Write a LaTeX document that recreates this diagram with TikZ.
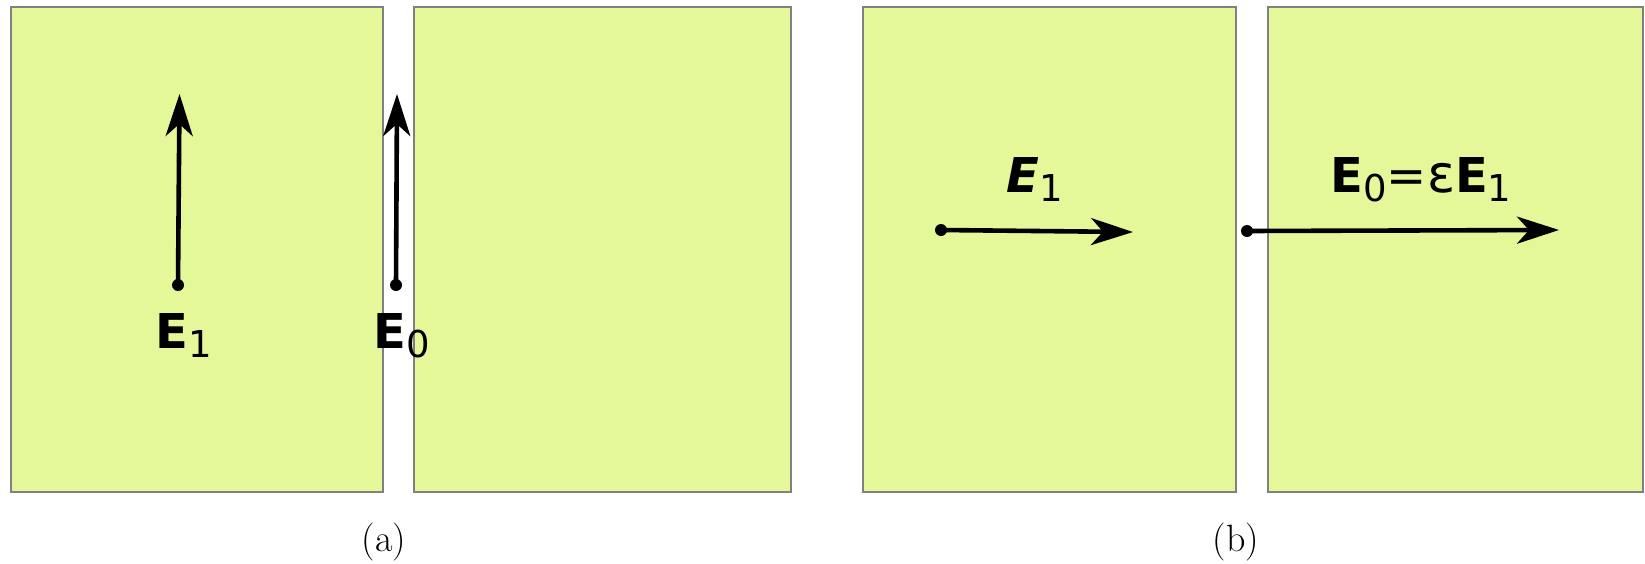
\documentclass[tikz,border=0pt]{standalone}
\usepackage{fontspec}
\newfontfamily\dv{DejaVu Sans}
\usetikzlibrary{arrows.meta}
\newcommand{\bigE}{{\fontsize{48}{48}\selectfont\dv\bfseries E}}
\newcommand{\bigEit}{{\fontsize{48}{48}\selectfont\dv\bfseries\itshape E}}
\newcommand{\sub}[1]{\raisebox{-9pt}{\fontsize{37}{37}\selectfont\dv #1}}
\begin{document}
\begin{tikzpicture}[x=1pt,y=-1pt,
  slab/.style={draw=black!50,line width=1.8pt,fill=slabfill},
  vec/.style={line width=4.6pt,-{Stealth[length=42pt,width=27pt,inset=12pt]},shorten >=-2pt},
  lab/.style={anchor=base,inner sep=0pt},
  captext/.style={font=\fontsize{38}{44}\selectfont,inner sep=0pt}]
\definecolor{slabfill}{HTML}{E4F799}
\useasboundingbox (0,0) rectangle (1645,563);
\fill[white] (0,0) rectangle (1645,563);
% slabs (a)
\node[slab,minimum width=372pt,minimum height=485pt,inner sep=0pt,anchor=north west] (a1) at (10,6) {};
\node[slab,minimum width=377pt,minimum height=485pt,inner sep=0pt,anchor=north west] (a2) at (413,6) {};
% slabs (b)
\node[slab,minimum width=373pt,minimum height=485pt,inner sep=0pt,anchor=north west] (b1) at (862,6) {};
\node[slab,minimum width=375pt,minimum height=485pt,inner sep=0pt,anchor=north west] (b2) at (1267,6) {};
% vectors (a)
\coordinate (p1) at (178,285); \coordinate (q1) at (179.5,96);
\coordinate (p0) at (396,285); \coordinate (q0) at (397,96);
\fill (p1) circle (6pt); \fill (p0) circle (6pt);
\draw[vec] (p1) -- (q1);
\draw[vec] (p0) -- (q0);
\node[lab] (l1) at (184,348) {\bigE\sub{1}};
\node[lab] (l0) at (402,348) {\bigE\sub{0}};
% vectors (b)
\coordinate (r1) at (941,230); \coordinate (s1) at (1131,232);
\coordinate (r0) at (1247,231); \coordinate (s0) at (1557,230);
\fill (r1) circle (6pt); \fill (r0) circle (6pt);
\draw[vec] (r1) -- (s1);
\draw[vec] (r0) -- (s0);
\node[lab] (m1) at (1035,192) {\bigEit\sub{1}};
\node[lab] (m0) at (1421,192) {\bigE\sub{0}{\fontsize{48}{48}\selectfont\dv =}{\fontsize{52}{52}\selectfont\dv ε}\bigE\sub{1}};
% captions
\node[captext] (ca) at (384,542) {(a)};
\node[captext] (cb) at (1236,542) {(b)};
\end{tikzpicture}
\end{document}
